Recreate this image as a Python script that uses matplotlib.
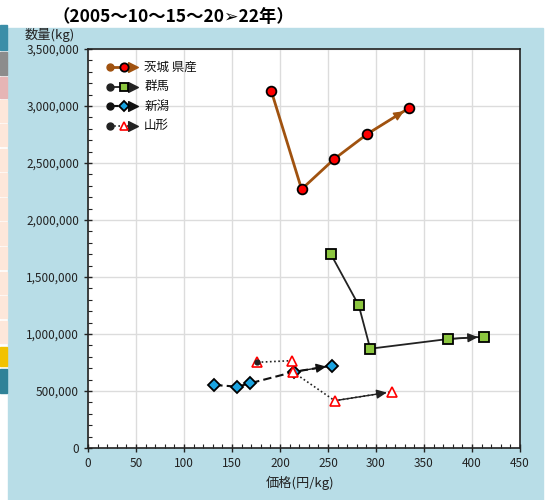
import matplotlib.pyplot as plt
from matplotlib.patches import Rectangle
from matplotlib.ticker import MultipleLocator, FuncFormatter

plt.rcParams['font.family'] = ['Noto Sans CJK JP', 'DejaVu Sans']

# price (yen/kg) and quantity (kg), 2005, 10, 15, 20, 22
ibaraki_x = [191, 222.5, 256.5, 291, 334]
ibaraki_y = [3130000, 2270000, 2535000, 2755000, 2980000]
gunma_x = [253, 282, 294, 375, 412]
gunma_y = [1700000, 1252000, 871000, 956000, 976000]
niigata_x = [131.5, 155.5, 168.5, 215, 254]
niigata_y = [553000, 538000, 567000, 669000, 722000]
yamagata_x = [176.5, 212, 214, 257, 317]
yamagata_y = [752000, 766000, 664000, 415000, 494000]

names = ['茨城 県産', '群馬', '新潟', '山形']

fig = plt.figure(figsize=(5.47, 5.00), dpi=100)
W, H = 547, 500
# light blue panel
fig.patches.append(Rectangle((8 / W, 0), (543 - 8) / W, (500 - 28) / H,
                             transform=fig.transFigure, color='#b8dde7', zorder=-2))
# cut off table cells on the far left
cells = [(25, 50, '#3b8ea8'), (52, 75, '#8c8c8c'), (77, 98, '#e6b5b5')]
for i in range(10):
    cells.append((100 + i * 24.5, 122 + i * 24.5, '#fde7da'))
cells += [(347, 366, '#f2c200'), (369, 393, '#2f8298')]
for y0, y1, c in cells:
    fig.patches.append(Rectangle((0, 1 - y1 / H), 7 / W, (y1 - y0) / H,
                                 transform=fig.transFigure, color=c, zorder=-2))

fig.text(52 / W, 1 - 17 / H, '（2005～10～15～20➢22年）', fontsize=12.5, fontweight='bold',
         va='center', ha='left', family=['Noto Sans CJK JP', 'DejaVu Sans'])

ax = fig.add_axes([88 / W, 1 - 448 / H, 432 / W, 399 / H])
ax.set_facecolor('white')
ax.set_xlim(0, 450)
ax.set_ylim(0, 3500000)
ax.xaxis.set_major_locator(MultipleLocator(50))
ax.xaxis.set_minor_locator(MultipleLocator(10))
ax.yaxis.set_major_locator(MultipleLocator(500000))
ax.yaxis.set_minor_locator(MultipleLocator(100000))
ax.yaxis.set_major_formatter(FuncFormatter(lambda v, p: f'{int(v):,}'))
ax.grid(True, which='major', color='#dcdcdc', lw=1)
ax.set_axisbelow(True)
ax.tick_params(which='major', direction='inout', length=6, width=1, labelsize=8.5, colors='#222222')
ax.tick_params(which='minor', direction='in', length=3, width=0.8, colors='#222222')
for s in ax.spines.values():
    s.set_color('#222222')
    s.set_linewidth(1.2)

series = [
    (ibaraki_x, ibaraki_y, dict(color='#a0520f', lw=2, ls='-'),
     dict(marker='o', mfc='red', mec='black', ms=7, mew=1.3), '#a0520f'),
    (gunma_x, gunma_y, dict(color='#222222', lw=1.3, ls='-'),
     dict(marker='s', mfc='#8cc63f', mec='black', ms=7, mew=1.3), '#222222'),
    (niigata_x, niigata_y, dict(color='#111111', lw=1.5, ls=(0, (4, 2))),
     dict(marker='D', mfc='#1aa3e0', mec='black', ms=6, mew=1.3), '#111111'),
    (yamagata_x, yamagata_y, dict(color='#222222', lw=1.2, ls=(0, (1, 1.5))),
     dict(marker='^', mfc='white', mec='red', ms=7, mew=1.2), '#222222'),
]

for xs, ys, lstyle, mstyle, ac in series:
    ax.plot(xs, ys, zorder=3, **lstyle)
    ax.annotate('', xy=(xs[-1], ys[-1]), xytext=(xs[-2], ys[-2]),
                arrowprops=dict(arrowstyle='-|>,head_length=0.55,head_width=0.25', color=ac,
                                lw=1, mutation_scale=11, shrinkA=0, shrinkB=4), zorder=4)
    ax.plot(xs, ys, ls='none', zorder=5, **mstyle)
    # start point dot (only visible through hollow markers)
    ax.plot(xs[:1], ys[:1], 'o', color=ac, ms=3.5, zorder=6 if mstyle['mfc'] == 'white' else 3.5)

# legend drawn by hand: start dot, marker, arrow head
for i, (name, (xs, ys, lstyle, mstyle, ac)) in enumerate(zip(names, series)):
    ly = 0.955 - i * 0.049
    ax.plot([0.051, 0.1], [ly, ly], transform=ax.transAxes, clip_on=False, zorder=6, **lstyle)
    ax.plot([0.051], [ly], 'o', color=ac, ms=5, transform=ax.transAxes, zorder=6)
    ax.plot([0.105], [ly], marker=r'$\blacktriangleright$', color=ac, ms=7,
            transform=ax.transAxes, zorder=6)
    small = dict(mstyle, ms=mstyle['ms'] - 1)
    ax.plot([0.083], [ly], ls='none', transform=ax.transAxes, zorder=7, **small)
    ax.text(0.13, ly, name, transform=ax.transAxes, fontsize=9, va='center', color='#111111')

fig.text(25 / W, 1 - 35 / H, '数量(kg)', fontsize=9.5, va='center', ha='left', color='#222222')
fig.text(300 / W, 1 - 483 / H, '価格(円/kg)', fontsize=9.5, va='center', ha='center', color='#222222')

fig.savefig('out.png', dpi=100, facecolor='white')
